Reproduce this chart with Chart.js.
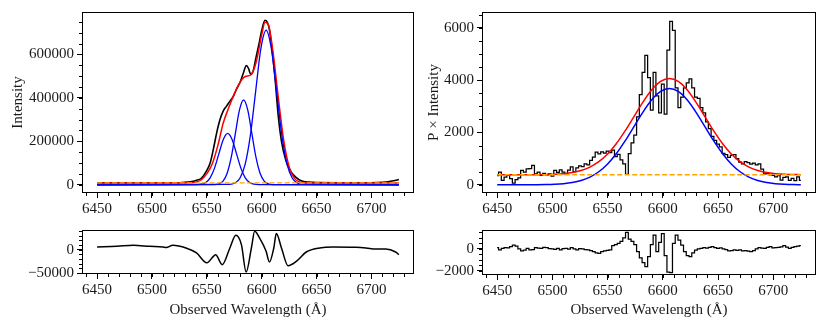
<!DOCTYPE html>
<html>
<head>
<meta charset="utf-8">
<title>Line fit</title>
<script src="https://cdn.jsdelivr.net/npm/chart.js@4/dist/chart.umd.min.js"></script>
<style>
  html, body { margin: 0; padding: 0; background: #fff; }
  #wrap { position: relative; width: 830px; height: 332px; overflow: hidden; }
  canvas { position: absolute; }
</style>
</head>
<body>
<div id="wrap">
  <canvas id="c-tl" width="420" height="215" style="left:0;top:0"></canvas>
  <canvas id="c-bl" width="420" height="117" style="left:0;top:215px"></canvas>
  <canvas id="c-tr" width="415" height="215" style="left:415px;top:0"></canvas>
  <canvas id="c-br" width="415" height="117" style="left:415px;top:215px"></canvas>
</div>
<script>
"use strict";

// shared wavelength axis
const xMajor = [6450, 6500, 6550, 6600, 6650, 6700];

// ---- left: intensity and its three-component fit ----
const blackLWave = [6450, 6470, 6490, 6510, 6525, 6530, 6535, 6540, 6545, 6550, 6553, 6556, 6559, 6562, 6565, 6568, 6571, 6574, 6577, 6580, 6583, 6586, 6588, 6590, 6592, 6595, 6598, 6600, 6603, 6605, 6607, 6609, 6612, 6615, 6618, 6622, 6626, 6631, 6636, 6643, 6650, 6670, 6690, 6705, 6715, 6720, 6725];
const blackLVal = [9000, 9500, 9500, 9000, 9500, 11000, 14000, 20000, 30000, 66000, 100000, 165000, 240000, 300000, 340000, 362000, 385000, 405000, 440000, 468000, 510000, 548000, 535000, 508000, 520000, 591000, 660000, 710000, 757000, 748000, 714000, 640000, 498000, 320000, 200000, 112000, 65000, 35000, 18000, 12000, 10000, 9500, 9500, 10500, 14000, 18000, 24000];

const redLWave = [6450, 6535, 6540, 6545, 6550, 6555, 6560, 6565, 6570, 6575, 6580, 6585, 6590, 6595, 6600, 6603, 6606, 6610, 6615, 6620, 6625, 6630, 6635, 6640, 6725];
const redLVal = [8500, 9000, 12000, 23000, 51000, 97000, 180000, 285000, 355000, 418000, 470000, 498000, 505000, 565000, 690000, 748000, 738000, 622000, 406000, 205000, 82000, 28000, 12000, 8500, 8500];

const blue1Wave = [6450, 6541, 6545, 6549, 6553, 6557, 6561, 6565, 6569, 6573, 6577, 6581, 6585, 6589, 6593, 6597, 6725];
const blue1Val = [0, 500, 2600, 10400, 31900, 76600, 143100, 208300, 236000, 208300, 143100, 76600, 31900, 10400, 2600, 500, 0];

const blue2Wave = [6450, 6557.25, 6561, 6564.75, 6568.5, 6572.25, 6576, 6579.75, 6583.5, 6587.25, 6591, 6594.75, 6598.5, 6602.25, 6606, 6609.75, 6725];
const blue2Val = [0, 860, 4300, 17100, 52800, 126600, 236500, 344200, 390000, 344200, 236500, 126600, 52800, 17100, 4300, 860, 0];

const blue3Wave = [6450, 6570.75, 6575.5, 6580.25, 6585, 6589.75, 6594.5, 6599.25, 6604, 6608.75, 6613.5, 6618.25, 6623, 6627.75, 6632.5, 6637.25, 6725];
const blue3Val = [0, 1560, 7900, 31200, 96200, 230900, 431200, 627500, 711000, 627500, 431200, 230900, 96200, 31200, 7900, 1560, 0];

const contLWave = [6450, 6725];
const contLVal = [8500, 8500];

const resLWave = [6450, 6468, 6483, 6498, 6510, 6513, 6519, 6531, 6540.6, 6550, 6556, 6558, 6564, 6571, 6576.4, 6581.5, 6585.8, 6590.6, 6593.6, 6598, 6604, 6607, 6611, 6613.3, 6618, 6624, 6631.5, 6640.6, 6652.7, 6665, 6686, 6695, 6704, 6713, 6722, 6725];
const resLVal = [5700, 7100, 9300, 7100, 5700, 4500, 9300, 3600, -7100, -28000, -14300, -10700, -32000, 3600, 30700, 10700, -47900, 3600, 39300, 25000, -3600, -26400, 3600, 34300, 3600, -34300, -25000, -5000, 3600, 5700, 5000, 3600, 1400, 1400, -5000, -10700];

// ---- right: polarised intensity, one broad component ----
const specStart = 6450;
const specStep = 2.5;
const blackRVal = [
  350, 480, 170, 290, 360, 230, 60, 200, 260, 550,
  480, 610, 620, 740, 420, 480, 360, 440, 380, 420,
  330, 550, 470, 570, 480, 420, 560, 680, 500, 650,
  720, 690, 800, 760, 930, 1060, 1250, 1180, 1260, 1210,
  1290, 1230, 1320, 1080, 1160, 950, 800, 400, 1190, 1600,
  1900, 2600, 3450, 4300, 4950, 4100, 2850, 4300, 3400, 2750,
  3850, 2700, 5150, 6250, 5900, 3700, 2950, 3350, 3700, 3900,
  4050, 3700, 3350, 3300, 2950, 2750, 2400, 2150, 1850, 1700,
  1550, 1450, 1200, 1150, 1050, 1120, 1150, 1000, 870, 800,
  880, 850, 790, 830, 760, 800, 600, 420, 430, 380,
  360, 300, 350, 180, 280, 300, 170, 240, 160, 300,
  170
];
const resRVal = [
  120, -90, 60, 120, 100, 210, 360, 250, 0, -180,
  -100, 60, -90, -60, 120, 80, 60, 150, 120, 40,
  0, -40, 60, -90, 30, 60, -20, 120, 0, -90,
  40, 0, -60, -90, -150, -240, -350, -390, -250, -180,
  -120, -90, 300, 400, 515, 700, 1000, 1520, 900, 700,
  400, -240, -800, -1250, -1600, -700, 400, 1270, -240, 600,
  1400, -600, -2100, -2150, 500, 1270, 800, 360, -240, -600,
  -700, -350, -100, 0, 60, 120, 80, 150, 210, 120,
  60, 100, 0, -60, -180, -150, -90, -120, -90, -180,
  -150, -200, -240, -150, 20, 120, 80, 60, 150, 210,
  100, 120, 150, 200, 300, 180, 60, 150, 210, 250,
  300
];

const fitRWave = [6450, 6486, 6494, 6502, 6510, 6518, 6526, 6534, 6542, 6550, 6558, 6566, 6574, 6582, 6590, 6598, 6606, 6614, 6622, 6630, 6638, 6646, 6654, 6662, 6670, 6678, 6686, 6694, 6702, 6710, 6718, 6725];
const blueRVal = [0, 3, 8, 19, 41, 84, 162, 293, 498, 796, 1195, 1685, 2232, 2778, 3248, 3567, 3680, 3567, 3248, 2778, 2232, 1685, 1195, 796, 498, 293, 162, 84, 41, 19, 8, 4];
const redRVal = [383, 386, 391, 402, 424, 467, 545, 676, 881, 1179, 1578, 2068, 2615, 3161, 3631, 3950, 4063, 3950, 3631, 3161, 2615, 2068, 1578, 1179, 881, 676, 545, 467, 424, 402, 391, 387];

const contRWave = [6450, 6725];
const contRVal = [383, 383];

const X_MIN = 6436.25;
const X_MAX = 6738.75;
const FONT = "'Liberation Serif', 'Times New Roman', serif";
const TEXT = "#1a1a1a";

function pairs(xs, ys) {
  return xs.map((x, i) => ({ x, y: ys[i] }));
}

function gridWave(vals) {
  return vals.map((_, i) => specStart + specStep * i);
}

function fmt(v) {
  return v < 0 ? "\u2212" + Math.abs(v) : String(v);
}

function line(xs, ys, color, width, extra) {
  return Object.assign({
    data: pairs(xs, ys),
    borderColor: color,
    borderWidth: width,
    pointRadius: 0,
    fill: false,
    cubicInterpolationMode: "monotone",
  }, extra || {});
}

// box round the plot area plus matplotlib-style minor ticks
const frameTicks = {
  id: "frameTicks",
  afterDraw(chart, args, opts) {
    const { ctx, chartArea: a, scales } = chart;
    ctx.save();
    ctx.strokeStyle = "#000";
    ctx.lineWidth = 1;
    ctx.beginPath();
    const xs = scales.x, ys = scales.y;
    const x0 = Math.ceil(xs.min / opts.xMinor);
    for (let i = x0; i * opts.xMinor <= xs.max; i++) {
      const px = Math.round(xs.getPixelForValue(i * opts.xMinor)) + 0.5;
      ctx.moveTo(px, a.bottom);
      ctx.lineTo(px, a.bottom + 3);
    }
    const y0 = Math.ceil(ys.min / opts.yMinor);
    for (let i = y0; i * opts.yMinor <= ys.max; i++) {
      const py = Math.round(ys.getPixelForValue(i * opts.yMinor)) + 0.5;
      ctx.moveTo(a.left, py);
      ctx.lineTo(a.left - 3, py);
    }
    ctx.stroke();
    ctx.strokeRect(Math.round(a.left) + 0.5, Math.round(a.top) + 0.5,
      Math.round(a.width) - 1, Math.round(a.height) - 1);
    ctx.restore();
  },
};

function makeChart(id, cfg) {
  const tickFont = { family: FONT, size: 15 };
  return new Chart(document.getElementById(id), {
    type: "line",
    data: { datasets: cfg.datasets },
    options: {
      responsive: false,
      animation: false,
      devicePixelRatio: 1,
      events: [],
      layout: { padding: cfg.padding },
      plugins: {
        legend: { display: false },
        tooltip: { enabled: false },
        frameTicks: { xMinor: 10, yMinor: cfg.yMinor },
      },
      scales: {
        x: {
          type: "linear",
          min: X_MIN,
          max: X_MAX,
          afterBuildTicks: s => { s.ticks = xMajor.map(v => ({ value: v })); },
          afterFit: s => { s.height = cfg.xHeight; },
          ticks: { font: tickFont, color: TEXT, padding: 2, maxRotation: 0, autoSkip: false, callback: fmt },
          grid: { drawOnChartArea: false, drawTicks: true, tickLength: 5, color: "#000", lineWidth: 1 },
          border: { display: false },
          title: cfg.xTitle
            ? { display: true, text: cfg.xTitle, font: tickFont, color: TEXT, padding: { top: 0, bottom: 13 } }
            : { display: false },
        },
        y: {
          type: "linear",
          min: cfg.yMin,
          max: cfg.yMax,
          afterBuildTicks: s => { s.ticks = cfg.yMajor.map(v => ({ value: v })); },
          afterFit: s => { s.width = cfg.yWidth; },
          ticks: { font: tickFont, color: TEXT, padding: 3, autoSkip: false, callback: fmt },
          grid: { drawOnChartArea: false, drawTicks: true, tickLength: 5, color: "#000", lineWidth: 1 },
          border: { display: false },
          title: cfg.yTitle
            ? { display: true, text: cfg.yTitle, font: tickFont, color: TEXT, padding: { top: cfg.yTitlePad, bottom: 0 } }
            : { display: false },
        },
      },
    },
    plugins: [frameTicks],
  });
}

function init() {
  const dash = [5, 2.5];

  makeChart("c-tl", {
    padding: { top: 12, right: 6, bottom: 0, left: 0 },
    xHeight: 22, yWidth: 82,
    yMin: -38000, yMax: 795000, yMinor: 50000,
    yMajor: [0, 200000, 400000, 600000],
    yTitle: "Intensity", yTitlePad: 9,
    datasets: [
      line(contLWave, contLVal, "orange", 1.3, { borderDash: dash, order: 0 }),
      line(blue1Wave, blue1Val, "blue", 1.3, { order: 1 }),
      line(blue2Wave, blue2Val, "blue", 1.3, { order: 1 }),
      line(blue3Wave, blue3Val, "blue", 1.3, { order: 1 }),
      line(redLWave, redLVal, "red", 1.5, { order: 2 }),
      line(blackLWave, blackLVal, "black", 1.6, { order: 3 }),
    ],
  });

  makeChart("c-bl", {
    padding: { top: 15, right: 6, bottom: 0, left: 0 },
    xHeight: 58, yWidth: 82,
    yMin: -52000, yMax: 42000, yMinor: 10000,
    yMajor: [-50000, 0],
    xTitle: "Observed Wavelength (\u00c5)",
    datasets: [
      line(resLWave, resLVal, "black", 1.5),
    ],
  });

  makeChart("c-tr", {
    padding: { top: 12, right: 14, bottom: 0, left: 0 },
    xHeight: 22, yWidth: 67,
    yMin: -315, yMax: 6605, yMinor: 500,
    yMajor: [0, 2000, 4000, 6000],
    yTitle: "P \u00d7 Intensity", yTitlePad: 10,
    datasets: [
      line(contRWave, contRVal, "orange", 1.3, { borderDash: dash, order: 0 }),
      line(fitRWave, blueRVal, "blue", 1.5, { order: 1 }),
      line(fitRWave, redRVal, "red", 1.5, { order: 2 }),
      line(gridWave(blackRVal), blackRVal, "black", 1.25, { stepped: "middle", order: 3 }),
    ],
  });

  makeChart("c-br", {
    padding: { top: 15, right: 14, bottom: 0, left: 0 },
    xHeight: 57, yWidth: 67,
    yMin: -2364, yMax: 1727, yMinor: 500,
    yMajor: [-2000, 0],
    xTitle: "Observed Wavelength (\u00c5)",
    datasets: [
      line(gridWave(resRVal), resRVal, "black", 1.25, { stepped: "middle" }),
    ],
  });
}

document.addEventListener("DOMContentLoaded", init);
</script>
</body>
</html>
